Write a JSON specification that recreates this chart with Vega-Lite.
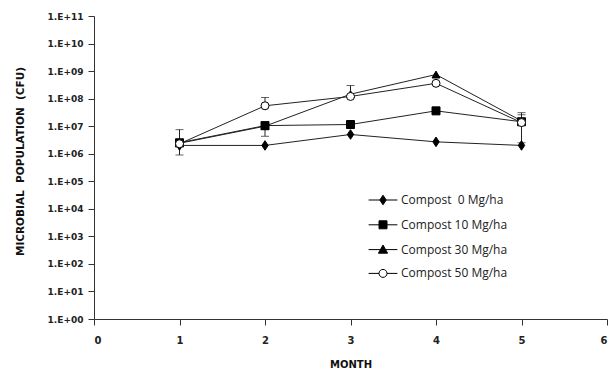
{
  "$schema": "https://vega.github.io/schema/vega-lite/v6.json",
  "width": 513,
  "height": 303,
  "autosize": "none",
  "padding": {"left": 94, "top": 16, "right": 9, "bottom": 50},
  "background": "white",
  "config": {
    "view": {"stroke": null},
    "font": "DejaVu Sans",
    "axis": {
      "domainColor": "#333",
      "tickColor": "#333",
      "tickSize": 6,
      "grid": false,
      "labelFont": "DejaVu Sans",
      "labelFontWeight": "bold",
      "labelColor": "#222",
      "titleFont": "DejaVu Sans",
      "titleFontWeight": "bold",
      "titleFontSize": 10,
      "titleColor": "#111"
    },
    "legend": {
      "orient": "none",
      "legendX": 283,
      "legendY": 178,
      "title": null,
      "padding": 0,
      "symbolSize": 64,
      "symbolStrokeWidth": 1,
      "symbolOpacity": 1,
      "labelOffset": 12,
      "labelFont": "Open Sans",
      "labelFontSize": 12,
      "labelFontWeight": "normal",
      "labelColor": "#222",
      "rowPadding": 11.8
    }
  },
  "datasets": {
    "means": [
      {"series": "Compost\u00a0 0 Mg/ha", "month": 1, "value": 2.0e6},
      {"series": "Compost\u00a0 0 Mg/ha", "month": 2, "value": 2.0e6},
      {"series": "Compost\u00a0 0 Mg/ha", "month": 3, "value": 5.0e6},
      {"series": "Compost\u00a0 0 Mg/ha", "month": 4, "value": 2.7e6},
      {"series": "Compost\u00a0 0 Mg/ha", "month": 5, "value": 2.0e6},
      {"series": "Compost 10 Mg/ha", "month": 1, "value": 2.5e6},
      {"series": "Compost 10 Mg/ha", "month": 2, "value": 1.05e7},
      {"series": "Compost 10 Mg/ha", "month": 3, "value": 1.15e7},
      {"series": "Compost 10 Mg/ha", "month": 4, "value": 3.6e7},
      {"series": "Compost 10 Mg/ha", "month": 5, "value": 1.45e7},
      {"series": "Compost 30 Mg/ha", "month": 1, "value": 2.4e6},
      {"series": "Compost 30 Mg/ha", "month": 2, "value": 1.0e7},
      {"series": "Compost 30 Mg/ha", "month": 3, "value": 1.45e8},
      {"series": "Compost 30 Mg/ha", "month": 4, "value": 7.5e8},
      {"series": "Compost 30 Mg/ha", "month": 5, "value": 1.55e7},
      {"series": "Compost 50 Mg/ha", "month": 1, "value": 2.3e6},
      {"series": "Compost 50 Mg/ha", "month": 2, "value": 5.5e7},
      {"series": "Compost 50 Mg/ha", "month": 3, "value": 1.2e8},
      {"series": "Compost 50 Mg/ha", "month": 4, "value": 3.6e8},
      {"series": "Compost 50 Mg/ha", "month": 5, "value": 1.35e7}
    ],
    "errs": [
      {"month": 1, "lo": 9.0e5, "hi": 7.5e6},
      {"month": 2, "lo": 4.3e6, "hi": 1.05e7},
      {"month": 2, "lo": 5.5e7, "hi": 1.1e8},
      {"month": 3, "lo": 1.2e8, "hi": 3.0e8},
      {"month": 5, "lo": 2.5e6, "hi": 3.1e7},
      {"month": 5, "lo": 1.35e7, "hi": 2.6e7}
    ]
  },
  "encoding": {
    "x": {
      "field": "month",
      "type": "quantitative",
      "scale": {"domain": [0, 6], "nice": false},
      "axis": {
        "values": [0, 1, 2, 3, 4, 5, 6],
        "format": "d",
        "title": "MONTH",
        "labelFontSize": 10,
        "labelPadding": 10,
        "titlePadding": 14
      }
    }
  },
  "resolve": {"scale": {"shape": "independent", "fill": "independent", "stroke": "independent"}},
  "layer": [
    {
      "data": {"name": "means"},
      "mark": {"type": "line", "stroke": "#222", "strokeWidth": 1},
      "encoding": {
        "y": {
          "field": "value",
          "type": "quantitative",
          "scale": {"type": "log", "domain": [1, 1e11], "nice": false},
          "axis": {
            "values": [1, 10, 100, 1000, 10000, 100000, 1000000, 10000000, 100000000, 1000000000, 10000000000, 100000000000],
            "labelExpr": "'1.E+' + format(round(log(datum.value)/LN10), '02d')",
            "labelFontSize": 9,
            "labelPadding": 5,
            "title": "MICROBIAL\u00a0 POPULATION\u00a0 (CFU)",
            "titleFontSize": 10.5,
            "titleX": -74,
            "titleY": 145,
            "titleBaseline": "middle",
            "titleAngle": -90
          }
        },
        "detail": {"field": "series"}
      }
    },
    {
      "data": {"name": "errs"},
      "mark": {"type": "rule", "stroke": "#222", "strokeWidth": 1},
      "encoding": {
        "y": {"field": "lo", "type": "quantitative"},
        "y2": {"field": "hi"}
      }
    },
    {
      "data": {"name": "errs"},
      "mark": {"type": "tick", "orient": "horizontal", "size": 8, "thickness": 1, "color": "#222"},
      "encoding": {"y": {"field": "hi", "type": "quantitative"}}
    },
    {
      "data": {"name": "errs"},
      "mark": {"type": "tick", "orient": "horizontal", "size": 8, "thickness": 1, "color": "#222"},
      "encoding": {"y": {"field": "lo", "type": "quantitative"}}
    },
    {
      "data": {"name": "means"},
      "mark": {"type": "point", "filled": true, "stroke": "#000", "strokeWidth": 1, "opacity": 1, "size": 64},
      "encoding": {
        "y": {"field": "value", "type": "quantitative"},
        "shape": {
          "field": "series",
          "type": "nominal",
          "scale": {
            "domain": ["Compost\u00a0 0 Mg/ha", "Compost 10 Mg/ha", "Compost 30 Mg/ha", "Compost 50 Mg/ha"],
            "range": ["M0,-1.2L0.8,0L0,1.2L-0.8,0Z", "square", "triangle-up", "circle"]
          },
          "legend": null
        },
        "fill": {
          "field": "series",
          "type": "nominal",
          "scale": {
            "domain": ["Compost\u00a0 0 Mg/ha", "Compost 10 Mg/ha", "Compost 30 Mg/ha", "Compost 50 Mg/ha"],
            "range": ["#000", "#000", "#000", "#fff"]
          },
          "legend": null
        }
      }
    },
    {
      "data": {"name": "means"},
      "transform": [{"filter": "datum.month > 100"}],
      "mark": {"type": "point", "filled": true, "strokeWidth": 1, "opacity": 1, "size": 64},
      "encoding": {
        "y": {"field": "value", "type": "quantitative"},
        "shape": {
          "field": "series",
          "type": "nominal",
          "scale": {
            "domain": ["Compost\u00a0 0 Mg/ha", "Compost 10 Mg/ha", "Compost 30 Mg/ha", "Compost 50 Mg/ha"],
            "range": ["M-3.6,0H3.6M0,-1.2L0.8,0L0,1.2L-0.8,0Z", "M-3.6,0H3.6M-1,-1H1V1H-1Z", "M-3.6,0H3.6M0,-1.15L1.15,0.9L-1.15,0.9Z", "M-3.6,0H-1M1,0H3.6M-1,0A1,1,0,1,1,1,0A1,1,0,1,1,-1,0Z"]
          }
        },
        "fill": {
          "field": "series",
          "type": "nominal",
          "scale": {
            "domain": ["Compost\u00a0 0 Mg/ha", "Compost 10 Mg/ha", "Compost 30 Mg/ha", "Compost 50 Mg/ha"],
            "range": ["#000", "#000", "#000", "#fff"]
          }
        },
        "stroke": {
          "field": "series",
          "type": "nominal",
          "scale": {
            "domain": ["Compost\u00a0 0 Mg/ha", "Compost 10 Mg/ha", "Compost 30 Mg/ha", "Compost 50 Mg/ha"],
            "range": ["#000", "#000", "#000", "#000"]
          }
        }
      }
    }
  ]
}
